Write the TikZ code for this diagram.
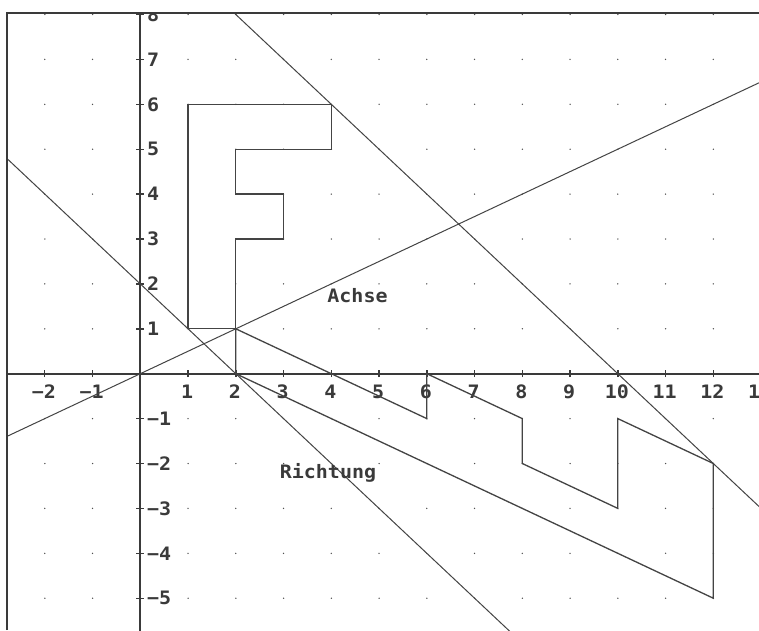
\documentclass[tikz,border=0pt]{standalone}
\usepackage{fontspec}
\newfontfamily\dosfont[FakeStretch=1.08,UprightFont={* Bold}]{DejaVu Sans Mono}
\definecolor{ink}{HTML}{3A3A3A}
\definecolor{linec}{HTML}{444444}
\definecolor{dotc}{HTML}{505050}
\newcommand\numlbl[1]{\ifnum#1<0 \char"2212\relax\number\numexpr-#1\relax\else#1\fi}
\begin{document}
\begin{tikzpicture}[x=47.75pt,y=44.9pt,
  axisline/.style={line width=1.7pt,color=ink},
  tickmark/.style={line width=1.4pt,color=ink},
  shapeline/.style={line width=1.3pt,color=linec,line join=miter},
  thinline/.style={line width=1pt,color=linec},
  lbl/.style={inner sep=0pt,text=ink,font=\dosfont\fontsize{18.5}{20}\selectfont},
  framel/.style={line width=1.8pt,color=ink}]
\path[use as bounding box] (-140.3pt,-256.3pt) rectangle (618.7pt,373.7pt);
\fill[white] (-140.3pt,-256.3pt) rectangle (618.7pt,373.7pt);
\begin{scope}
\clip (-133pt,-256.3pt) rectangle (618.7pt,361pt);
% grid dots
\foreach \i in {-2,...,13}{\foreach \j in {-5,...,8}{\fill[dotc] (\i,\j) circle (0.75pt);}}
% axes
\draw[axisline] (-3,0) -- (13.5,0);
\draw[axisline] (0,-6) -- (0,8.5);
\foreach \i in {-2,...,13}{\draw[tickmark] (\i,0) ++(0,-3.5pt) -- ++(0,7pt);}
\foreach \j in {-5,...,8}{\draw[tickmark] (0,\j) ++(-4pt,0) -- ++(8pt,0);}
\foreach \i in {-2,-1,1,2,3,4,5,6,7,8,9,10,11,12,13}{\node[lbl] at ([xshift=-1pt,yshift=-18pt]\i,0) {\numlbl{\i}};}
\foreach \j in {-5,-4,-3,-2,-1,1,2,3,4,5,6,7,8}{\node[lbl,anchor=west] at ([xshift=6.5pt]0,\j) {\numlbl{\j}};}
% lines
\draw[thinline] (-3,-1.5) -- (13.5,6.75);
\draw[thinline] (-3,5) -- (8,-6);
\draw[thinline] (1.5,8.5) -- (13.5,-3.5);
% original F
\draw[shapeline] (2,0) -- (2,3) -- (3,3) -- (3,4) -- (2,4) -- (2,5) -- (4,5) -- (4,6) -- (1,6) -- (1,1) -- (2,1);
% image
\draw[shapeline] (2,1) -- (6,-1) -- (6,0) -- (8,-1) -- (8,-2) -- (10,-3) -- (10,-1) -- (12,-2) -- (12,-5) -- (2,0) -- cycle;
% labels
\node[lbl] (achse) at (217.2pt,77.7pt) {Achse};
\node[lbl] (richtung) at (187.7pt,-99.6pt) {Richtung};
\end{scope}
\draw[framel] (-133pt,-256.3pt) -- (-133pt,361pt) -- (618.7pt,361pt);
\end{tikzpicture}
\end{document}
